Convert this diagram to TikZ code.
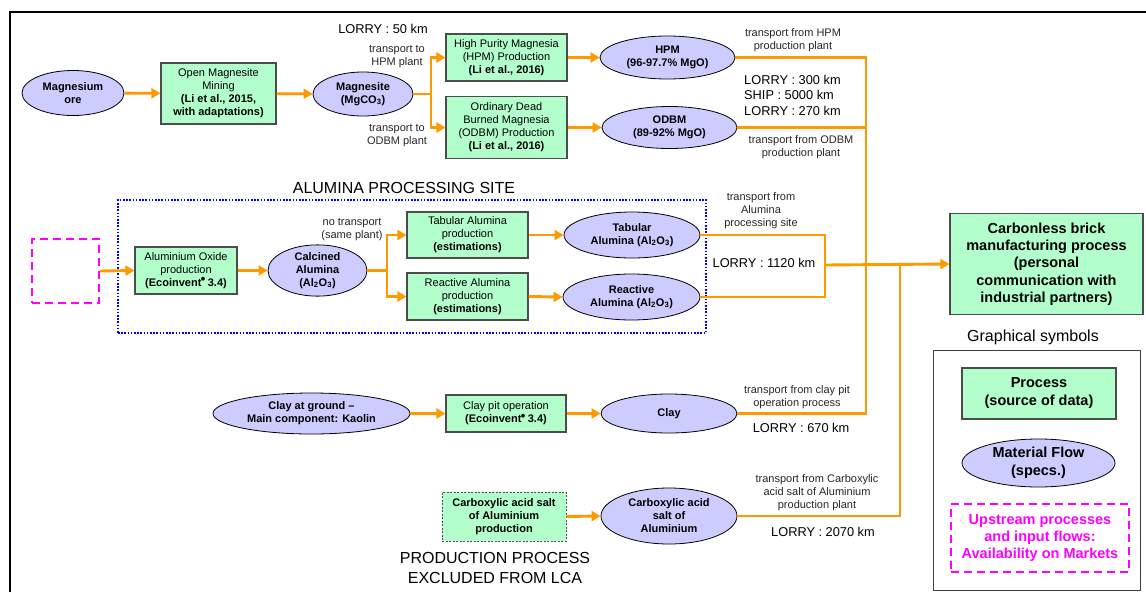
\documentclass[tikz,border=0pt]{standalone}
\usepackage{fontspec}
\setmainfont{Liberation Sans}
\usetikzlibrary{shapes.geometric,arrows.meta}
\definecolor{pgreen}{RGB}{179,255,204}
\definecolor{fblue}{RGB}{204,204,255}
\definecolor{aorange}{RGB}{255,153,0}
\definecolor{mag}{RGB}{255,0,255}
\newcommand{\ecodot}{\kern-0.6pt\raisebox{2.6pt}{\smash{\fontsize{13}{13}\selectfont•}}\kern-0.6pt}
\begin{document}
\begin{tikzpicture}[x=1pt,y=-1pt,
 proc/.style={draw=black!70, line width=1.1pt, fill=pgreen, align=center, inner sep=0pt, font=\fontsize{11}{13}\selectfont},
 flow/.style={ellipse, draw=black, line width=0.8pt, fill=fblue, align=center, inner sep=0pt, font=\fontsize{11}{13}\selectfont\bfseries},
 lbl/.style={align=center, inner sep=0pt, font=\fontsize{11}{13}\selectfont, text=black!85},
 big/.style={align=left, inner sep=0pt, font=\fontsize{12.8}{15.5}\selectfont},
 huge/.style={align=center, inner sep=0pt, font=\fontsize{16}{20}\selectfont},
 oline/.style={draw=aorange, line width=2.9pt},
 arr/.style={oline, -{Triangle[length=9pt,width=10pt]}},
 magbox/.style={draw=mag, line width=2pt, dash pattern=on 8pt off 5pt},
]
\useasboundingbox (0,0) rectangle (1146,592);
% outer frame
\draw[line width=2.2pt] (10,592) -- (10,12) -- (1146,12);

% ---- magnesia chain
\node[flow, minimum width=102pt, minimum height=45pt] (ore) at (73,93) {Magnesium\\ore};
\node[proc, minimum width=115pt, minimum height=61pt] (mining) at (218.5,93.5) {Open Magnesite\\Mining\\\textbf{(Li et al., 2015,}\\\textbf{with adaptations)}};
\node[flow, minimum width=100pt, minimum height=44pt] (mgs) at (363,94) {Magnesite\\(MgCO\textsubscript{3})};
\node[proc, minimum width=121pt, minimum height=47pt] (hpmbox) at (506.5,57.5) {High Purity Magnesia\\(HPM) Production\\\textbf{(Li et al., 2016)}};
\node[proc, minimum width=121pt, minimum height=62pt] (odbmbox) at (506.5,127.5) {Ordinary Dead\\Burned Magnesia\\(ODBM) Production\\\textbf{(Li et al., 2016)}};
\node[flow, minimum width=135pt, minimum height=43pt] (hpm) at (667.5,57.5) {HPM\\(96-97.7\% MgO)};
\node[flow, minimum width=135pt, minimum height=42pt] (odbm) at (669.5,127.5) {ODBM\\(89-92\% MgO)};

\node[big] (l50) at (383,29) {LORRY : 50 km};
\node[lbl] (tthpm) at (397,57) {transport to\\HPM plant};
\node[lbl] (ttodbm) at (397,136) {transport to\\ODBM plant};
\node[lbl] (tfhpm) at (793,40) {transport from HPM\\production plant};
\node[big, anchor=west] (l300) at (744,95) {LORRY : 300 km\\SHIP : 5000 km\\LORRY : 270 km};
\node[lbl] (tfodbm) at (801,147) {transport from ODBM\\production plant};

% ---- alumina
\node[huge] (alsite) at (404,188) {ALUMINA PROCESSING SITE};
\node[draw=blue, line width=2pt, dash pattern=on 1.6pt off 1.6pt, minimum width=588pt, minimum height=133pt, inner sep=0pt] (site) at (412,266.5) {};
\node[magbox, minimum width=67pt, minimum height=64pt, inner sep=0pt] (upA) at (65.5,271) {};
\node[proc, minimum width=102pt, minimum height=47pt] (alox) at (186,270.5) {Aluminium Oxide\\production\\\textbf{(Ecoinvent\ecodot\ 3.4)}};
\node[flow, minimum width=99pt, minimum height=49pt] (calc) at (317.5,270.5) {Calcined\\Alumina\\(Al\textsubscript{2}O\textsubscript{3})};
\node[proc, minimum width=121pt, minimum height=46pt] (tabbox) at (467.5,235) {Tabular Alumina\\production\\\textbf{(estimations)}};
\node[proc, minimum width=121pt, minimum height=47pt] (reabox) at (467.5,296.5) {Reactive Alumina\\production\\\textbf{(estimations)}};
\node[flow, minimum width=136pt, minimum height=46pt] (tab) at (632,235) {Tabular\\Alumina (Al\textsubscript{2}O\textsubscript{3})};
\node[flow, minimum width=137pt, minimum height=46pt] (rea) at (631.5,297) {Reactive\\Alumina (Al\textsubscript{2}O\textsubscript{3})};
\node[lbl] (notr) at (352,229.5) {no transport\\(same plant)};
\node[lbl] (tfal) at (761,211) {transport from\\Alumina\\processing site};
\node[big] (l1120) at (764,263) {LORRY : 1120 km};

% ---- clay
\node[flow, minimum width=197pt, minimum height=41pt] (clayg) at (311.5,413.5) {Clay at ground –\\Main component: Kaolin};
\node[proc, minimum width=120pt, minimum height=37pt] (claypit) at (506,413.5) {Clay pit operation\\\textbf{(Ecoinvent\ecodot\ 3.4)}};
\node[flow, minimum width=136pt, minimum height=39pt] (clay) at (669,413.5) {Clay};
\node[lbl] (tfclay) at (797,397.5) {transport from clay pit\\operation process};
\node[big] (l670) at (801,428) {LORRY : 670 km};

% ---- carboxylic
\node[proc, draw=black!70, line width=0.8pt, dash pattern=on 2pt off 1.5pt, minimum width=124pt, minimum height=49pt, font=\fontsize{11}{13}\selectfont\bfseries] (carbbox) at (504,516.5) {Carboxylic acid salt\\of Aluminium\\production};
\node[flow, minimum width=136pt, minimum height=56pt] (carb) at (669,516) {Carboxylic acid\\salt of\\Aluminium};
\node[lbl] (tfcarb) at (817,493) {transport from Carboxylic\\acid salt of Aluminium\\production plant};
\node[big] (l2070) at (823,532) {LORRY : 2070 km};
\node[huge] (excl) at (495,568) {PRODUCTION PROCESS\\EXCLUDED FROM LCA};

% ---- target
\node[proc, minimum width=193pt, minimum height=101pt, font=\fontsize{14.5}{17.3}\selectfont\bfseries] (brick) at (1046.5,264) {Carbonless brick\\manufacturing process\\(personal\\communication with\\industrial partners)};

% ---- legend
\node[huge] (gs) at (1033,337) {Graphical symbols};
\node[draw=black!75, line width=1pt, minimum width=207pt, minimum height=240pt, inner sep=0pt] (legend) at (1036.5,470) {};
\node[proc, minimum width=154pt, minimum height=51pt, font=\fontsize{14.5}{18}\selectfont\bfseries] (lproc) at (1039,393.5) {Process\\(source of data)};
\node[flow, minimum width=153pt, minimum height=48pt, font=\fontsize{14.5}{18}\selectfont\bfseries] (lflow) at (1038.5,463) {Material Flow\\(specs.)};
\node[magbox, minimum width=178pt, minimum height=68pt, inner sep=0pt, text=mag, align=center, font=\fontsize{14.5}{17.3}\selectfont\bfseries] (lup) at (1040,538) {Upstream processes\\and input flows:\\Availability on Markets};

% ---- connectors
\coordinate (j1) at (431,94);
\coordinate (j2) at (387,270.5);
\coordinate (vA) at (866,265);
\coordinate (vB) at (900,265);
\coordinate (vC) at (825,265);

\draw[arr] (ore) -- (mining);
\draw[arr] (mining) -- (mgs);
\draw[oline] (mgs.east) -- (j1);
\draw[arr] (j1) |- (hpmbox.west);
\draw[arr] (j1) |- (odbmbox.west);
\draw[arr] (hpmbox.east) -- (hpm.west);
\draw[arr] (odbmbox.east) -- (odbm.west);
\draw[oline] (hpm.east) -| (vA);
\draw[oline] (odbm.east) -| (vA);
\draw[oline] (clay.east) -| (vA);
\draw[oline] (carb.east) -| (vB);

\draw[arr] (upA.east) -- (alox.west);
\draw[arr] (alox.east) -- (calc.west);
\draw[oline] (calc.east) -- (j2);
\draw[arr] (j2) |- (tabbox.west);
\draw[arr] (j2) |- (reabox.west);
\draw[arr] (tabbox.east) -- (tab.west);
\draw[arr] (reabox.east) -- (rea.west);
\draw[oline] (tab.east) -| (vC);
\draw[oline] (rea.east) -| (vC);
\draw[arr] (vC) -- (brick.west);

\draw[arr] (clayg.east) -- (claypit.west);
\draw[arr] (claypit.east) -- (clay.west);
\draw[arr] (carbbox.east) -- (carb.west);
\end{tikzpicture}
\end{document}
